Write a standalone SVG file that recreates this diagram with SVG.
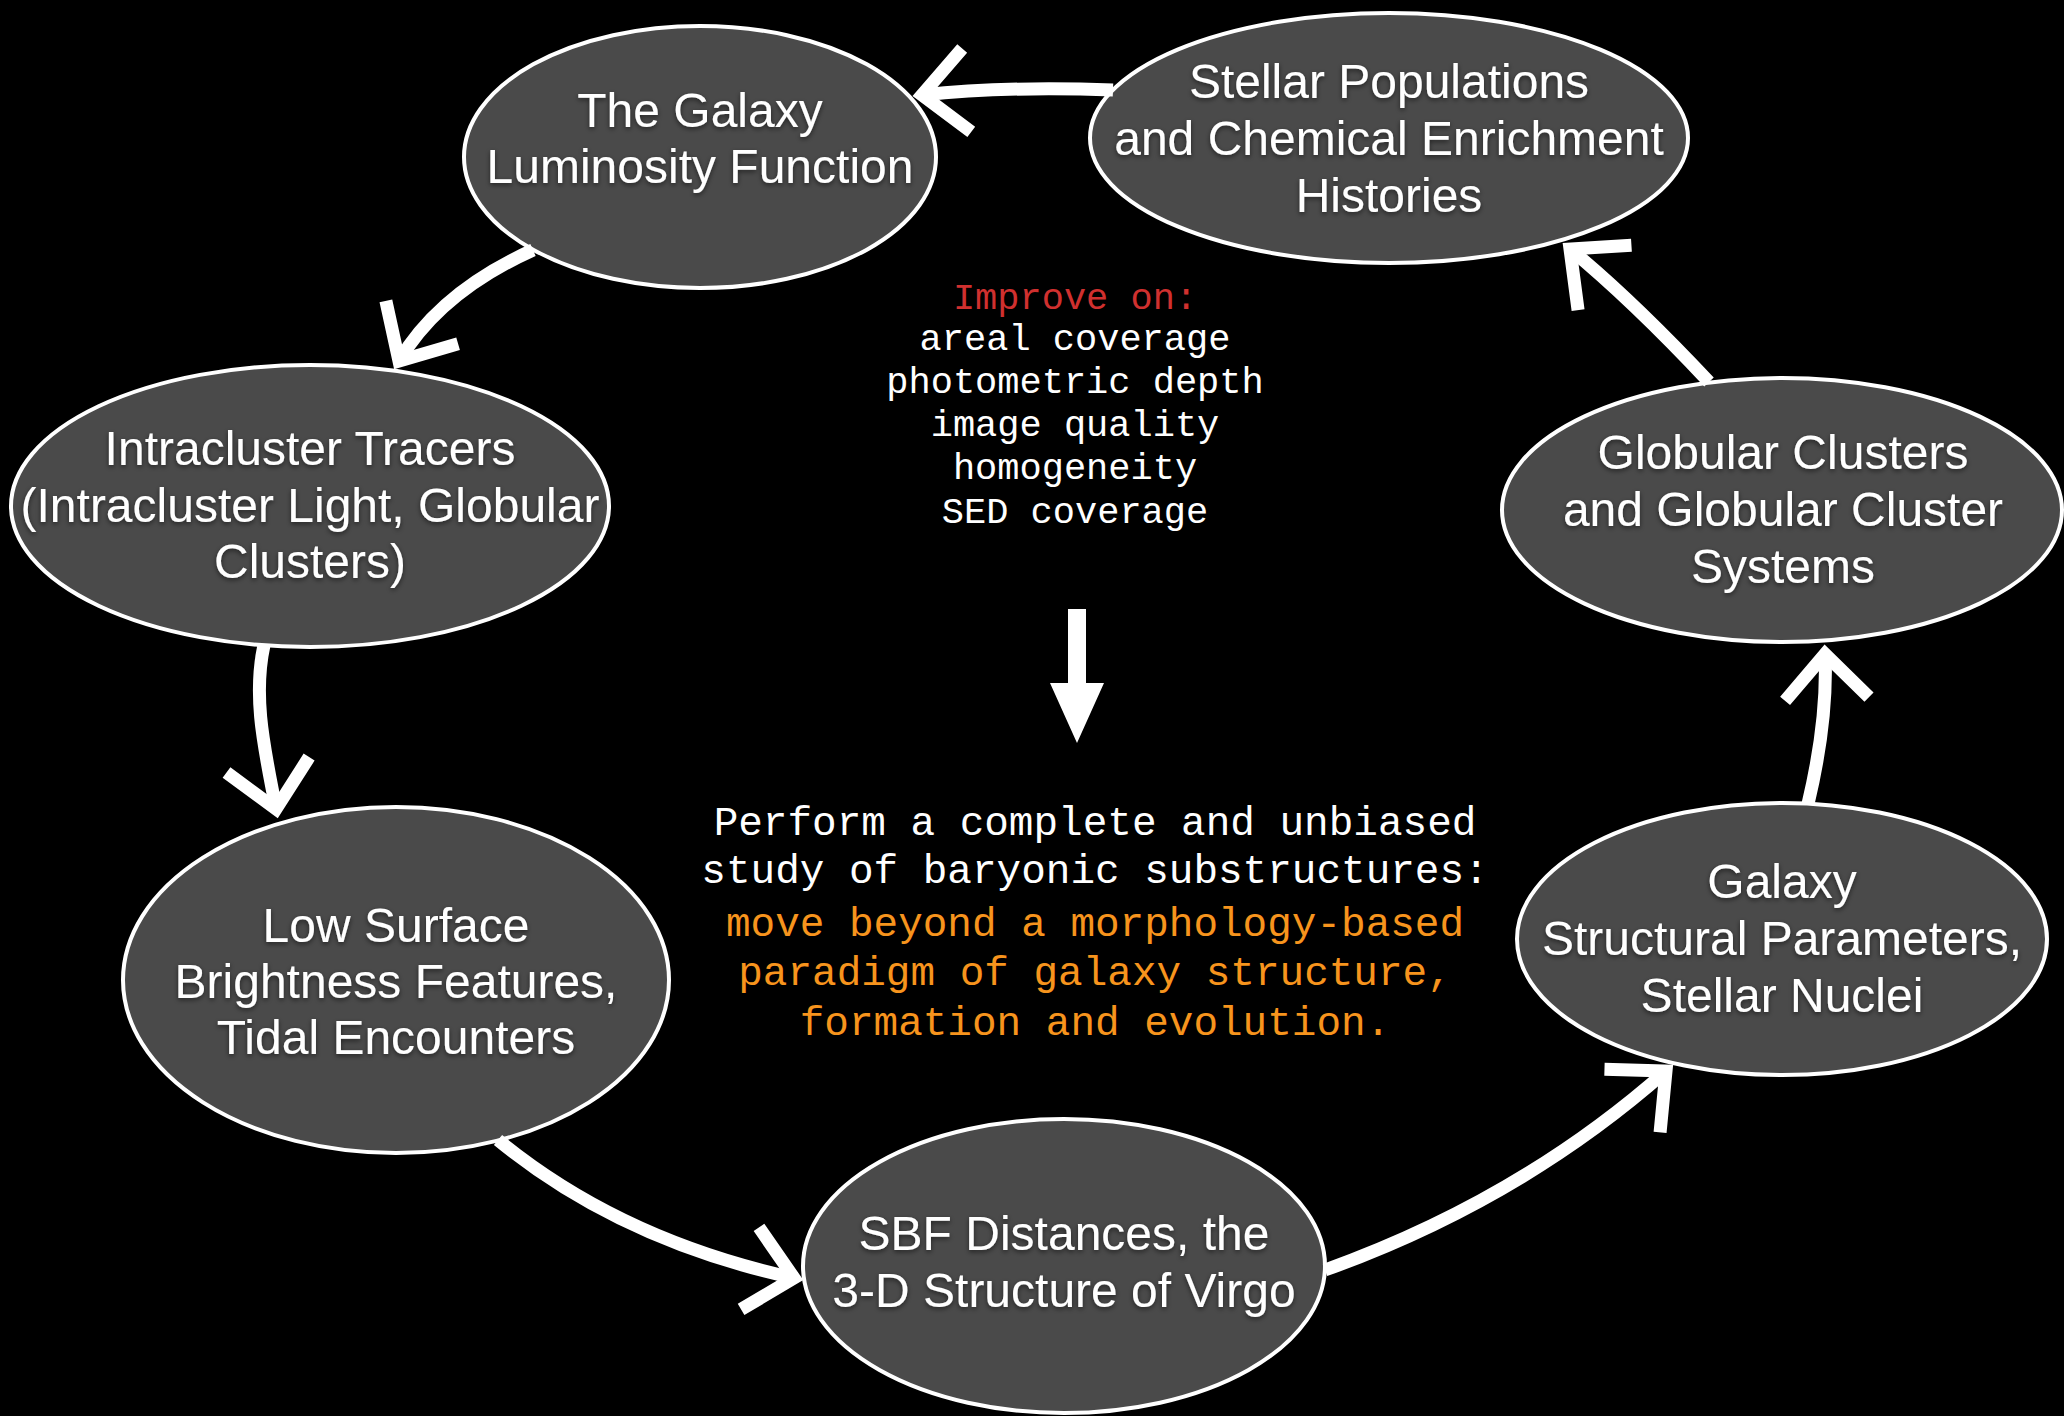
<svg xmlns="http://www.w3.org/2000/svg" width="2064" height="1416" viewBox="0 0 2064 1416">
  <style>
    .node ellipse { fill: #4a4a4a; stroke: #ffffff; stroke-width: 4; }
    .node text { font-family: "Liberation Sans", Arial, Helvetica, sans-serif; font-size: 48px; fill: #ffffff; text-anchor: middle; filter: url(#shadow); }
    .conn { fill: none; stroke: #ffffff; stroke-width: 13; stroke-linecap: butt; marker-end: url(#chev); }
    .mono { font-family: "Liberation Mono", "Courier New", monospace; text-anchor: middle; }
    .top { font-size: 37px; fill: #ffffff; }
    .red { fill: #d0302f; }
    .bot { font-size: 41px; fill: #ffffff; }
    .orange { fill: #f7941d; }
  </style>
  <defs>
    <filter id="shadow" x="-10%" y="-30%" width="120%" height="160%">
      <feDropShadow dx="0" dy="2" stdDeviation="2.5" flood-color="#000000" flood-opacity="0.55"/>
    </filter>
    <marker id="chev" markerUnits="userSpaceOnUse" markerWidth="120" markerHeight="120" refX="0" refY="0" orient="auto" overflow="visible" viewBox="-60 -60 120 120">
      <path d="M-45,-42 L0,0 L-45,42" fill="none" stroke="#ffffff" stroke-width="13" stroke-linejoin="miter" stroke-miterlimit="10"/>
    </marker>
  </defs>
  <rect x="0" y="0" width="2064" height="1416" fill="#000000"/>

  <g id="node-luminosity" class="node">
    <ellipse cx="700" cy="157" rx="236" ry="131"/>
    <text x="700" y="127">The Galaxy</text>
    <text x="700" y="183">Luminosity Function</text>
  </g>
  <g id="node-stellar-populations" class="node">
    <ellipse cx="1389" cy="138" rx="299" ry="125"/>
    <text x="1389" y="98">Stellar Populations</text>
    <text x="1389" y="155">and Chemical Enrichment</text>
    <text x="1389" y="212">Histories</text>
  </g>
  <g id="node-intracluster" class="node">
    <ellipse cx="310" cy="506" rx="299" ry="141"/>
    <text x="310" y="465">Intracluster Tracers</text>
    <text x="310" y="522">(Intracluster Light, Globular</text>
    <text x="310" y="578">Clusters)</text>
  </g>
  <g id="node-globular" class="node">
    <ellipse cx="1782" cy="510" rx="280" ry="132"/>
    <text x="1783" y="469">Globular Clusters</text>
    <text x="1783" y="526">and Globular Cluster</text>
    <text x="1783" y="583">Systems</text>
  </g>
  <g id="node-low-surface" class="node">
    <ellipse cx="396" cy="980" rx="273" ry="173"/>
    <text x="396" y="942">Low Surface</text>
    <text x="396" y="998">Brightness Features,</text>
    <text x="396" y="1054">Tidal Encounters</text>
  </g>
  <g id="node-structural" class="node">
    <ellipse cx="1782" cy="939" rx="265" ry="136"/>
    <text x="1782" y="898">Galaxy</text>
    <text x="1782" y="955">Structural Parameters,</text>
    <text x="1782" y="1012">Stellar Nuclei</text>
  </g>
  <g id="node-sbf" class="node">
    <ellipse cx="1064" cy="1266" rx="261" ry="147"/>
    <text x="1064" y="1250">SBF Distances, the</text>
    <text x="1064" y="1307">3-D Structure of Virgo</text>
  </g>

  <g id="connectors">
    <path class="conn" d="M1113,90 Q1005,86 922,95"/>
    <path class="conn" d="M533,250 Q440,292 399,361"/>
    <path class="conn" d="M264,645 C252,700 266,755 276,809"/>
    <path class="conn" d="M498,1140 Q620,1240 794,1278"/>
    <path class="conn" d="M1325,1270 Q1520,1200 1666,1071"/>
    <path class="conn" d="M1808,804 Q1828,720 1825,654"/>
    <path class="conn" d="M1709,382 Q1632,300 1570,249"/>
  </g>

  <g id="center-text">
    <text class="mono top red" x="1075" y="309">Improve on:</text>
    <text class="mono top" x="1075" y="350">areal coverage</text>
    <text class="mono top" x="1075" y="393">photometric depth</text>
    <text class="mono top" x="1075" y="436">image quality</text>
    <text class="mono top" x="1075" y="479">homogeneity</text>
    <text class="mono top" x="1075" y="523">SED coverage</text>
    <polygon id="down-arrow" points="1068,609 1086,609 1086,683 1104,683 1077,743 1050,683 1068,683" fill="#ffffff"/>
    <text class="mono bot" x="1095" y="835">Perform a complete and unbiased</text>
    <text class="mono bot" x="1095" y="883">study of baryonic substructures:</text>
    <text class="mono bot orange" x="1095" y="936">move beyond a morphology-based</text>
    <text class="mono bot orange" x="1095" y="985">paradigm of galaxy structure,</text>
    <text class="mono bot orange" x="1095" y="1035">formation and evolution.</text>
  </g>
</svg>
